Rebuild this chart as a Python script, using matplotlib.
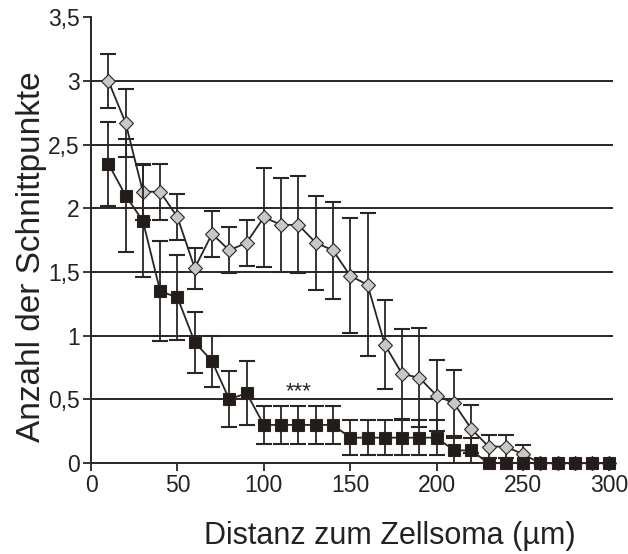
import matplotlib
matplotlib.use("Agg")
import matplotlib.pyplot as plt
import numpy as np

plt.rcParams['font.family'] = ['Liberation Sans', 'DejaVu Sans']

distance = [10, 20, 30, 40, 50, 60, 70, 80, 90, 100, 110, 120, 130, 140, 150,
            160, 170, 180, 190, 200, 210, 220, 230, 240, 250, 260, 270, 280, 290, 300]
control = [3.0, 2.67, 2.13, 2.13, 1.93, 1.53, 1.8, 1.67, 1.73, 1.93, 1.87, 1.87, 1.73, 1.67, 1.47,
           1.4, 0.93, 0.7, 0.67, 0.53, 0.47, 0.27, 0.13, 0.13, 0.07, 0, 0, 0, 0, 0]
control_err = [0.21, 0.27, 0.22, 0.22, 0.18, 0.16, 0.18, 0.18, 0.18, 0.39, 0.37, 0.38, 0.37, 0.38, 0.45,
               0.56, 0.35, 0.35, 0.39, 0.28, 0.26, 0.19, 0.09, 0.09, 0.07, 0, 0, 0, 0, 0]
treated = [2.35, 2.1, 1.9, 1.35, 1.3, 0.95, 0.8, 0.5, 0.55, 0.3, 0.3, 0.3, 0.3, 0.3, 0.2,
           0.2, 0.2, 0.2, 0.2, 0.2, 0.1, 0.1, 0, 0, 0, 0, 0, 0, 0, 0]
treated_err = [0.33, 0.44, 0.44, 0.39, 0.33, 0.24, 0.2, 0.22, 0.25, 0.15, 0.15, 0.15, 0.15, 0.15, 0.14,
               0.14, 0.14, 0.14, 0.14, 0.14, 0.1, 0.1, 0, 0, 0, 0, 0, 0, 0, 0]
yticks = [0, 0.5, 1, 1.5, 2, 2.5, 3, 3.5]
ytick_labels = ['0', '0,5', '1', '1,5', '2', '2,5', '3', '3,5']
xticks = [0, 50, 100, 150, 200, 250, 300]
annot_text = '***'
annot_pos = (120, 0.56)

dark = '#2a2522'

fig = plt.figure(figsize=(6.28, 5.54), dpi=100)
ax = fig.add_axes([0.145, 0.164, 0.831, 0.805])

for gy in yticks[1:-1]:
    ax.axhline(gy, color=dark, lw=1.4, zorder=0)

def draw(xv, yv, ev, marker, ms, face, z):
    xa = np.array(xv); ya = np.array(yv); ea = np.array(ev)
    m = ea > 0
    ax.errorbar(xa[m], ya[m], yerr=ea[m], fmt='none', ecolor=dark, elinewidth=1.3,
                capsize=5.5, capthick=1.5, zorder=z)
    ax.plot(xa, ya, color=dark, lw=1.3, marker=marker, ms=ms, mfc=face,
            mec=dark, mew=0.8, zorder=z + 0.5, clip_on=False)

draw(distance, control, control_err, 'D', 7, '#c8c8c8', 2)
draw(distance, treated, treated_err, 's', 9, '#231c18', 3)

ax.text(annot_pos[0], annot_pos[1], annot_text, ha='center', va='center',
        fontsize=16, color=dark)

ax.set_xlim(0, 302)
ax.set_ylim(0, 3.5)
ax.set_yticks(yticks)
ax.set_yticklabels(ytick_labels)
ax.set_xticks(xticks)
ax.tick_params(direction='out', length=6, width=1.3, colors=dark, labelsize=16.5, pad=2)
ax.tick_params(axis='both', labelcolor='#222222')
for s in ['top', 'right']:
    ax.spines[s].set_visible(False)
for s in ['left', 'bottom']:
    ax.spines[s].set_color(dark)
    ax.spines[s].set_linewidth(1.4)

ax.set_xlabel('Distanz zum Zellsoma (µm)', fontsize=22, color='#222222', va='center')
ax.set_ylabel('Anzahl der Schnittpunkte', fontsize=24, color='#222222', va='center')
ax.xaxis.set_label_coords(0.573, -0.163)
ax.yaxis.set_label_coords(-0.115, 0.462)

fig.savefig('out.png', dpi=100)
